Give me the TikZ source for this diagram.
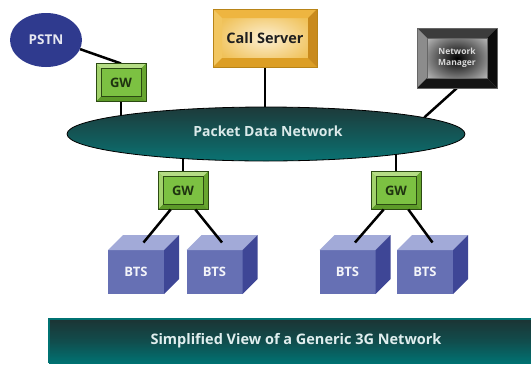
\documentclass[tikz,border=0pt]{standalone}
\usepackage{fontspec}
\setmainfont{Open Sans}
\usetikzlibrary{shapes.geometric,calc,backgrounds}
\definecolor{pstnblue}{HTML}{2F3A8E}
\definecolor{gwface}{HTML}{7CC142}
\definecolor{gwtop}{HTML}{B5DD85}
\definecolor{gwleft}{HTML}{A2D26C}
\definecolor{gwbot}{HTML}{5C9A28}
\definecolor{gwright}{HTML}{68A630}
\definecolor{gwdark}{HTML}{2B4A12}
\definecolor{gwtext}{HTML}{1F3310}
\definecolor{cstop}{HTML}{EEB540}
\definecolor{csleft}{HTML}{F2C660}
\definecolor{csbot}{HTML}{DC9E25}
\definecolor{csright}{HTML}{C98A1C}
\definecolor{cslight}{HTML}{FCEFD2}
\definecolor{csmid}{HTML}{F0C25A}
\definecolor{csline}{HTML}{B88418}
\definecolor{nmtop}{HTML}{3C3C3C}
\definecolor{nmleft}{HTML}{8C8C8C}
\definecolor{nmbot}{HTML}{141414}
\definecolor{nmright}{HTML}{0C0C0C}
\definecolor{nmouter}{HTML}{B8B8B8}
\definecolor{pdntop}{HTML}{1D3A3A}
\definecolor{pdnbot}{HTML}{0A7272}
\definecolor{btsfront}{HTML}{6670B4}
\definecolor{btstop}{HTML}{A2AAD8}
\definecolor{btsside}{HTML}{3E4696}
\definecolor{bantop}{HTML}{1C3434}
\definecolor{banbot}{HTML}{007272}
\newcommand{\bevelfaces}[7]{%
 \fill[#3] (#1.north west) -- (#1.north east) -- ([shift={(-#2,#2)}]#1.north east) -- ([shift={(#2,#2)}]#1.north west) -- cycle;
 \fill[#4] (#1.north west) -- ([shift={(#2,#2)}]#1.north west) -- ([shift={(#2,-#2)}]#1.south west) -- (#1.south west) -- cycle;
 \fill[#5] (#1.south west) -- ([shift={(#2,-#2)}]#1.south west) -- ([shift={(-#2,-#2)}]#1.south east) -- (#1.south east) -- cycle;
 \fill[#6] (#1.north east) -- (#1.south east) -- ([shift={(-#2,-#2)}]#1.south east) -- ([shift={(-#2,#2)}]#1.north east) -- cycle;
 \draw[#7, line width=0.7pt] (#1.north west) rectangle (#1.south east);
 \draw[#7, line width=0.5pt] ([shift={(#2,#2)}]#1.north west) rectangle ([shift={(-#2,-#2)}]#1.south east);
}
\newcommand{\cubefaces}[1]{%
 \fill[btstop] (#1.north west) -- ([shift={(15,-15)}]#1.north west) -- ([shift={(15,-15)}]#1.north east) -- (#1.north east) -- cycle;
 \fill[btsside] (#1.north east) -- ([shift={(15,-15)}]#1.north east) -- ([shift={(15,-15)}]#1.south east) -- (#1.south east) -- cycle;
}
\begin{document}
\begin{tikzpicture}[x=1pt,y=-1pt,
  conn/.style={line width=2.5pt, black},
  gwbox/.style={rectangle, minimum width=50pt, minimum height=38pt, inner sep=0pt, outer sep=0pt, fill=gwface},
  gwlabel/.style={font=\bfseries\fontsize{13}{15}\selectfont, text=gwtext},
  btsbox/.style={rectangle, minimum width=56pt, minimum height=44pt, inner sep=0pt, outer sep=0pt, fill=btsfront},
  btslabel/.style={font=\bfseries\fontsize{13}{15}\selectfont, text=white!92!btsfront},
]
\useasboundingbox (0,0) rectangle (531,365);

% nodes
\node[ellipse, fill=pstnblue, minimum width=72pt, minimum height=54pt, inner sep=0pt] (pstn) at (46,40) {};
\node[font=\bfseries\fontsize{13.5}{15}\selectfont, text=white!88!pstnblue] (pstnt) at (pstn) {PSTN};

\node[gwbox] (gw1) at (121,82.5) {};
\node[gwbox] (gw2) at (183,190.5) {};
\node[gwbox] (gw3) at (396,190.5) {};

\node[rectangle, minimum width=104pt, minimum height=58pt, inner sep=0pt, outer sep=0pt, inner color=cslight, outer color=csmid] (cs) at (265,38) {};
\node[rectangle, minimum width=80pt, minimum height=60pt, inner sep=0pt, outer sep=0pt, inner color=black, outer color=nmouter] (nm) at (457,58) {};

\node[ellipse, minimum width=398pt, minimum height=54pt, inner sep=0pt, top color=pdntop, bottom color=pdnbot, draw=black, line width=0.8pt] (pdn) at (266,134) {};
\node[font=\bfseries\fontsize{14}{16}\selectfont, text=white!85!pdnbot] (pdnt) at (268,131) {Packet Data Network};

\node[btsbox] (bts1) at (136,272) {};
\node[btsbox] (bts2) at (214.5,272) {};
\node[btsbox] (bts3) at (347.5,272) {};
\node[btsbox] (bts4) at (425,272) {};

% background and connectors behind nodes
\begin{pgfonlayer}{background}
\fill[white] (0,0) rectangle (531,365);
\draw[conn] (pstn.-15) -- (gw1.north);
\draw[conn] (gw1) -- (gw1 |- pdn);
\draw[conn] (cs) -- (cs |- pdn);
\draw[conn] (nm.south) -- (pdn.6);
\draw[conn] (gw2) -- (gw2 |- pdn);
\draw[conn] (gw3) -- (gw3 |- pdn);
\end{pgfonlayer}

% bevels
\bevelfaces{gw1}{5}{gwtop}{gwleft}{gwbot}{gwright}{gwdark}
\bevelfaces{gw2}{5}{gwtop}{gwleft}{gwbot}{gwright}{gwdark}
\bevelfaces{gw3}{5}{gwtop}{gwleft}{gwbot}{gwright}{gwdark}
\node[gwlabel] (gw1t) at (gw1) {GW};
\node[gwlabel] (gw2t) at (gw2) {GW};
\node[gwlabel] (gw3t) at (gw3) {GW};

\fill[cstop] (cs.north west) -- (cs.north east) -- ([shift={(-9,9)}]cs.north east) -- ([shift={(9,9)}]cs.north west) -- cycle;
\fill[csleft] (cs.north west) -- ([shift={(9,9)}]cs.north west) -- ([shift={(9,-9)}]cs.south west) -- (cs.south west) -- cycle;
\fill[csbot] (cs.south west) -- ([shift={(9,-9)}]cs.south west) -- ([shift={(-9,-9)}]cs.south east) -- (cs.south east) -- cycle;
\fill[csright] (cs.north east) -- (cs.south east) -- ([shift={(-9,-9)}]cs.south east) -- ([shift={(-9,9)}]cs.north east) -- cycle;
\draw[csline, line width=0.4pt] (cs.north west) rectangle (cs.south east);
\node[font=\bfseries\fontsize{14.5}{16}\selectfont, text=black!88] (cst) at (cs) {Call Server};

\bevelfaces{nm}{10}{nmtop}{nmleft}{nmbot}{nmright}{black!60}
\node[font=\bfseries\fontsize{8.5}{10.5}\selectfont, text=white!85!black, align=center] (nmt) at (nm) {Network\\Manager};

% cubes
\cubefaces{bts1}
\cubefaces{bts2}
\cubefaces{bts3}
\cubefaces{bts4}
\node[btslabel] (bts1t) at (bts1) {BTS};
\node[btslabel] (bts2t) at (bts2) {BTS};
\node[btslabel] (bts3t) at (bts3) {BTS};
\node[btslabel] (bts4t) at (bts4) {BTS};

% GW to BTS
\draw[conn] (gw2.-123) -- ([shift={(7.5,-7.5)}]bts1.north);
\draw[conn] (gw2.-57) -- ([shift={(7.5,-7.5)}]bts2.north);
\draw[conn] (gw3.-123) -- ([shift={(7.5,-7.5)}]bts3.north);
\draw[conn] (gw3.-57) -- ([shift={(7.5,-7.5)}]bts4.north);

% banner
\node[rectangle, minimum width=482pt, minimum height=44pt, inner sep=0pt, outer sep=0pt, anchor=north west, top color=bantop, bottom color=banbot, middle color=bantop!60!banbot] (banner) at (49,319) {};
\draw[banbot, line width=1.2pt] (banner.south west) -- (banner.north west) -- (banner.north east);
\node[font=\bfseries\fontsize{14.5}{16}\selectfont, text=white!88!banbot] (bannert) at (296,341) {Simplified View of a Generic 3G Network};
\end{tikzpicture}
\end{document}
